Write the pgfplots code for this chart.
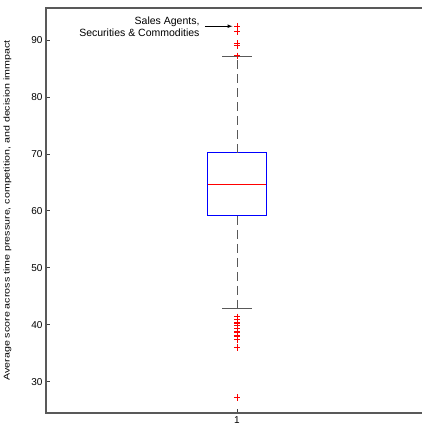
\documentclass[border=0pt]{standalone}
\usepackage{pgfplots}
\pgfplotsset{compat=1.18}
\usepackage{fontspec}
\setmainfont{Liberation Sans}
\newfontfamily\widefont[FakeStretch=1.27]{Liberation Sans}
\begin{document}
\begin{tikzpicture}
\useasboundingbox (-46pt,-17pt) rectangle (375pt,413pt);
\begin{axis}[
  at={(0pt,0pt)}, anchor=south west,
  scale only axis, width=382pt, height=405pt,
  xmin=0.5, xmax=1.5, ymin=24.5, ymax=95.6,
  xtick={1}, xticklabels={1},
  ytick={30,40,50,60,70,80,90},
  ytick pos=left, xtick pos=bottom,
  tick align=inside, major tick length=4pt,
  tick style={color=black!75, line width=0.6pt},
  axis line style={color=black!65, line width=1.1pt},
  ticklabel style={font=\fontsize{10}{11}\selectfont},
  /pgf/number format/assume math mode=true,
  ylabel={Average score across time pressure, competition, and decision immpact},
  ylabel style={font=\widefont\fontsize{8.4}{9}\selectfont, at={(axis description cs:0,0.5)}, anchor=north, yshift=46pt},
  clip=false,
]
% box
\addplot[blue, line width=1pt] coordinates {(0.924,59.1) (1.076,59.1) (1.076,70.2) (0.924,70.2) (0.924,59.1)};
% median
\addplot[red, line width=0.8pt] coordinates {(0.924,64.6) (1.076,64.6)};
% whiskers
\addplot[black!65, line width=1pt, dash pattern=on 9pt off 5pt] coordinates {(1,70.2) (1,87.0)};
\addplot[black!65, line width=1pt, dash pattern=on 9pt off 5pt] coordinates {(1,59.1) (1,42.8)};
\addplot[black!65, line width=1pt] coordinates {(0.961,87.0) (1.039,87.0)};
\addplot[black!65, line width=1pt] coordinates {(0.961,42.8) (1.039,42.8)};
% outliers
\addplot[only marks, color=red, mark=+, mark size=3.2pt, mark options={draw=red, line width=0.9pt, solid}] coordinates {
 (1,92.4) (1,91.4) (1,89.4) (1,89.0) (1,87.2)
 (1,41.4) (1,40.9) (1,40.4) (1,40.2) (1,39.8) (1,39.4) (1,38.9) (1,38.6) (1,38.2) (1,37.9) (1,37.4) (1,36.0) (1,27.2)};
% annotation
\draw[-latex, line width=0.7pt] (axis cs:0.916,92.4) -- (axis cs:0.988,92.4);
\node[anchor=east, align=right, font=\fontsize{10.5}{12}\selectfont, inner sep=1pt] at (axis cs:0.905,92.3) {Sales Agents,\\Securities \& Commodities};
\end{axis}
\end{tikzpicture}
\end{document}
